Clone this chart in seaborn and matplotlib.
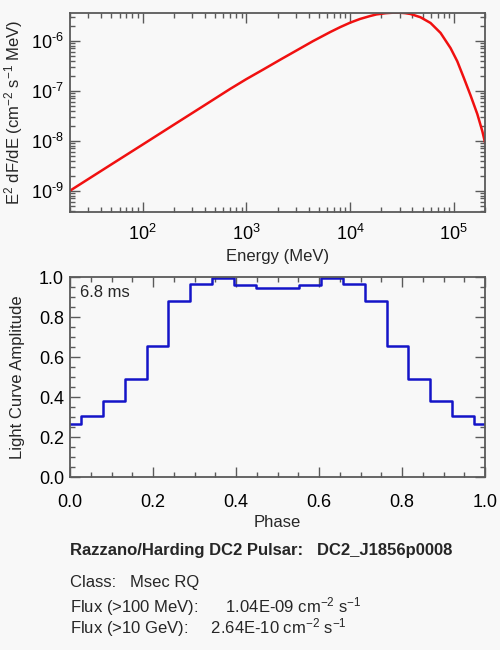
import numpy as np
import pandas as pd
import matplotlib
matplotlib.use('Agg')
import matplotlib.pyplot as plt
import matplotlib.ticker as mticker
import seaborn as sns

# spectrum
energy_mev = [20, 50, 100, 200, 400, 697, 1000, 1462, 2170, 3076, 4400, 6452,
              8058, 10070, 12500, 15710, 18000, 22000, 26000, 30000, 34000,
              38240, 47770, 59690, 74570, 93140, 108100, 125200, 145300,
              168700, 188600, 200000]
e2_dfde = [1.0e-9, 3.35e-9, 8.33e-9, 2.08e-8, 5.18e-8, 1.08e-7, 1.7e-7, 2.66e-7,
           4.27e-7, 6.43e-7, 9.8e-7, 1.49e-6, 1.87e-6, 2.3e-6, 2.72e-6, 3.12e-6,
           3.35e-6, 3.54e-6, 3.63e-6, 3.63e-6, 3.55e-6, 3.42e-6, 2.94e-6,
           2.26e-6, 1.43e-6, 7.1e-7, 3.87e-7, 1.79e-7, 8.0e-8, 3.4e-8, 1.54e-8,
           9.2e-9]

# light curve bins (centres)
phase = [0.0, 0.053, 0.105, 0.158, 0.211, 0.263, 0.316, 0.368, 0.421, 0.474,
         0.526, 0.579, 0.632, 0.684, 0.737, 0.789, 0.842, 0.895, 0.947, 1.0]
amplitude = [0.265, 0.305, 0.38, 0.49, 0.655, 0.88, 0.965, 0.995, 0.96, 0.948,
             0.948, 0.96, 0.995, 0.965, 0.88, 0.655, 0.49, 0.38, 0.305, 0.265]

period_label = '6.8 ms'
info_lines = [
    'Razzano/Harding DC2 Pulsar:   DC2_J1856p0008',
    'Class:   Msec RQ',
    'Flux (>100 MeV):      1.04E-09 cm$^{-2}$ s$^{-1}$',
    'Flux (>10 GeV):     2.64E-10 cm$^{-2}$ s$^{-1}$',
]

sns.set_style('ticks')
plt.rcParams['font.family'] = ['Liberation Sans', 'DejaVu Sans']
plt.rcParams['mathtext.fontset'] = 'custom'
plt.rcParams['mathtext.rm'] = 'Liberation Sans'
plt.rcParams['mathtext.it'] = 'Liberation Sans:italic'
plt.rcParams['mathtext.bf'] = 'Liberation Sans:bold'

bg = '#f8f8f8'
edge = '#5a5a5a'
fs = 12
tfs = 13


def pow10_label(v, pos):
    e = int(round(np.log10(v)))
    return r'$\mathdefault{10^{\text{%d}}}$' % e


fig = plt.figure(figsize=(5, 6.5), dpi=100, facecolor=bg)
ax1 = fig.add_axes([0.14, 0.6743, 0.83, 0.3062], facecolor=bg)
ax2 = fig.add_axes([0.14, 0.2657, 0.83, 0.3077], facecolor=bg)

spec = pd.DataFrame({'energy': energy_mev, 'flux': e2_dfde})
sns.lineplot(data=spec, x='energy', y='flux', ax=ax1, color='#f01010', linewidth=1.8)
ax1.set_xscale('log')
ax1.set_yscale('log')
ax1.set_xlim(20, 2e5)
ax1.set_ylim(3.8e-10, 3.63e-6)
ax1.xaxis.set_major_formatter(mticker.FuncFormatter(pow10_label))
ax1.yaxis.set_major_formatter(mticker.FuncFormatter(pow10_label))
ax1.xaxis.set_minor_formatter(mticker.NullFormatter())
ax1.yaxis.set_minor_formatter(mticker.NullFormatter())
ax1.set_xlabel('Energy (MeV)', fontsize=fs)
ax1.set_ylabel(r'E$^{2}$ dF/dE (cm$^{-2}$ s$^{-1}$ MeV)', fontsize=fs)
ax1.yaxis.set_label_coords(-0.109, 0.5)
ax1.xaxis.set_label_coords(0.5, -0.187)

lc = pd.DataFrame({'phase': phase, 'amplitude': amplitude})
sns.lineplot(data=lc, x='phase', y='amplitude', ax=ax2, color='#1414c8',
             linewidth=1.8, drawstyle='steps-mid')
ax2.set_xlim(0, 1)
ax2.set_ylim(0, 1)
ax2.xaxis.set_major_locator(mticker.MultipleLocator(0.2))
ax2.xaxis.set_minor_locator(mticker.MultipleLocator(0.05))
ax2.yaxis.set_major_locator(mticker.MultipleLocator(0.2))
ax2.yaxis.set_minor_locator(mticker.MultipleLocator(0.05))
ax2.xaxis.set_major_formatter(mticker.FormatStrFormatter('%.1f'))
ax2.yaxis.set_major_formatter(mticker.FormatStrFormatter('%.1f'))
ax2.set_xlabel('Phase', fontsize=fs)
ax2.set_ylabel('Light Curve Amplitude', fontsize=fs)
ax2.yaxis.set_label_coords(-0.108, 0.5)
ax2.xaxis.set_label_coords(0.5, -0.188)
ax2.text(0.024, 0.925, period_label, transform=ax2.transAxes, fontsize=fs,
         va='center', ha='left')

for ax in (ax1, ax2):
    for sp in ax.spines.values():
        sp.set_visible(True)
        sp.set_color(edge)
        sp.set_linewidth(1.3)
    ax.tick_params(which='both', direction='in', top=True, right=True,
                   color=edge, width=1.0, labelsize=tfs, labelcolor='black')
    ax.tick_params(which='major', length=7)
    ax.tick_params(which='minor', length=3.5)
    ax.tick_params(axis='y', which='both', pad=4.3)
ax1.tick_params(axis='x', which='both', pad=9)
ax2.tick_params(axis='x', which='both', pad=12)

baselines = [0.1462, 0.0965, 0.058, 0.0257]
for i, (txt, yb) in enumerate(zip(info_lines, baselines)):
    fig.text(0.14, yb, txt, fontsize=fs, va='baseline', ha='left',
             fontweight='bold' if i == 0 else 'normal')

fig.savefig('out.png', dpi=100, facecolor=bg)
